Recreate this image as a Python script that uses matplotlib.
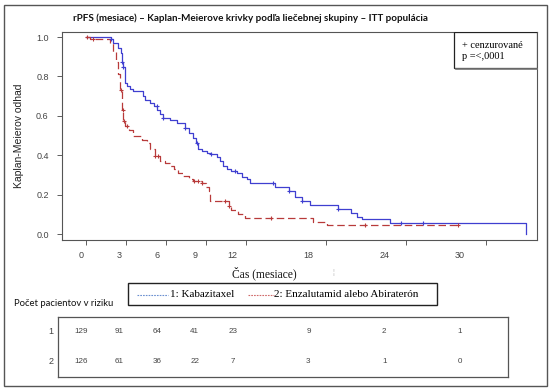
import matplotlib
matplotlib.use("Agg")
import matplotlib.pyplot as plt
import matplotlib.transforms as mtransforms
from matplotlib.patches import Rectangle
from matplotlib.lines import Line2D
import numpy as np

# --- data ---
# 1: Kabazitaxel (blue, solid)
blue_t = [0, 1.9, 2.05, 2.4, 2.6, 2.7, 2.8, 2.9, 3.05, 3.3, 3.5, 4.3, 4.4, 4.8, 5.1,
          5.35, 5.55, 5.8, 6.3, 6.8, 7.4, 7.7, 8.05, 8.25, 8.4, 8.7, 9.05, 9.4, 9.8,
          10.05, 10.3, 10.55, 10.9, 11.3, 11.7, 12.05, 12.3, 14.2, 15.2, 15.7, 16.2,
          16.8, 18.9, 19.9, 20.3, 20.7, 22.8, 33.0]
blue_s = [1.0, 0.99, 0.97, 0.945, 0.92, 0.875, 0.85, 0.765, 0.75, 0.735, 0.725, 0.70,
          0.68, 0.665, 0.65, 0.63, 0.61, 0.59, 0.58, 0.565, 0.54, 0.515, 0.49, 0.465,
          0.43, 0.42, 0.41, 0.405, 0.39, 0.37, 0.345, 0.33, 0.32, 0.31, 0.29, 0.28,
          0.26, 0.24, 0.22, 0.19, 0.17, 0.15, 0.13, 0.11, 0.09, 0.075, 0.057, 0.0]
blue_cens = [1.9, 2.7, 2.8, 5.3, 5.8, 7.4, 8.3, 9.4, 11.2, 14.0, 15.2, 16.2, 18.9,
             23.6, 25.3]

# 2: Enzalutamid alebo Abiraterón (red, dashed)
red_t = [0, 0.3, 1.8, 2.05, 2.25, 2.4, 2.55, 2.7, 2.8, 2.9, 3.2, 3.55, 4.2, 4.55, 4.8,
         5.2, 5.55, 5.9, 6.3, 6.6, 6.9, 7.3, 7.7, 8.05, 8.7, 9.0, 9.2, 9.3, 10.7, 10.9,
         11.4, 11.9, 17.05, 18.05, 27.9]
red_s = [1.0, 0.99, 0.97, 0.925, 0.875, 0.815, 0.73, 0.63, 0.575, 0.55, 0.53, 0.50,
         0.48, 0.465, 0.43, 0.395, 0.37, 0.36, 0.345, 0.33, 0.31, 0.295, 0.28, 0.27,
         0.26, 0.24, 0.22, 0.17, 0.145, 0.125, 0.105, 0.085, 0.062, 0.045, 0.045]
red_cens = [0.1, 0.5, 2.6, 2.75, 2.85, 3.1, 5.2, 5.4, 8.1, 8.4, 8.7, 10.4, 10.7, 13.9,
            20.9, 27.9]

x_ticks = [0, 3, 6, 9, 12, 18, 24, 30]
y_ticks = [0.0, 0.2, 0.4, 0.6, 0.8, 1.0]
risk_1 = [129, 91, 64, 41, 23, 9, 2, 1]
risk_2 = [126, 61, 36, 22, 7, 3, 1, 0]

BLUE = "#3f3fd0"
RED = "#b83a3a"
SANS = "Liberation Sans"
SERIF = "Liberation Serif"
TITLE_FONT = "Lato"

W, H = 554, 392


def fx(x):
    return x / W


def fy(y):
    return 1 - y / H


def surv_at(ts, ss, t):
    i = np.searchsorted(ts, t, side="right") - 1
    return ss[i]


fig = plt.figure(figsize=(5.54, 3.92), dpi=100)

# outer frame
fig.patches.append(Rectangle((fx(4), fy(386)), fx(547) - fx(4), fy(5) - fy(386),
                             transform=fig.transFigure, fill=False, ec="#555555", lw=1.0))

# --- KM plot ---
ax = fig.add_axes([fx(62), fy(240), fx(537) - fx(62), fy(31.7) - fy(240)])
ax.step(blue_t, blue_s, where="post", color=BLUE, lw=0.9)
ax.step(red_t, red_s, where="post", color=RED, lw=0.9, dashes=(6, 3))
ax.plot(blue_cens, [surv_at(blue_t, blue_s, t) for t in blue_cens], "+", color=BLUE,
        ms=3.2, mew=0.8)
ax.plot(red_cens, [surv_at(red_t, red_s, t) for t in red_cens], "+", color=RED,
        ms=3.2, mew=0.8)

ax.set_xlim(-1.8, 33.83)
ax.set_ylim(-0.029, 1.027)
ax.set_xticks(x_ticks)
ax.set_xticklabels([])
ax.set_yticks(y_ticks)
ax.set_yticklabels(["%.1f" % v for v in y_ticks], fontfamily=SANS, fontsize=6.5,
                   color="#444444")
ax.tick_params(direction="out", length=3.6, width=0.6, colors="#444444", pad=6)
for s in ax.spines.values():
    s.set_color("#555555")
    s.set_linewidth(0.8)
ax.set_ylabel("Kaplan-Meierov odhad", fontfamily=SANS, fontsize=7.5, color="#222222",
              labelpad=9)

# censored / p-value box
ax.add_patch(Rectangle((0.826, 0.826), 0.174, 0.174, transform=ax.transAxes,
                       fill=True, fc="white", ec="#222222", lw=0.9, zorder=5))
ax.plot([0.829, 1.0], [0.822, 0.822], transform=ax.transAxes, color="#777777", lw=1.2,
        zorder=5, clip_on=False)
ax.text(0.842, 0.936, "+ cenzurované", transform=ax.transAxes, fontfamily=SERIF,
        fontsize=7.5, va="center", zorder=6)
ax.text(0.842, 0.883, "p =<,0001", transform=ax.transAxes, fontfamily=SERIF,
        fontsize=7.5, va="center", zorder=6)

fig.text(fx(250), fy(18), "rPFS (mesiace) – Kaplan-Meierove krivky podľa liečebnej "
         "skupiny – ITT populácia", fontfamily=TITLE_FONT, fontweight="bold",
         fontsize=7.1, ha="center", va="center", color="#111111")

# --- risk table ---
tab = fig.add_axes([fx(58), fy(377.3), fx(508) - fx(58), fy(316.7) - fy(377.3)])
tab.set_xlim(-1.82, 33.8)
tab.set_ylim(0, 1)
tab.set_xticks([])
tab.set_yticks([])
for s in tab.spines.values():
    s.set_color("#555555")
    s.set_linewidth(0.9)

for t, a, b in zip(x_ticks, risk_1, risk_2):
    tab.text(t, 0.764, str(a), fontfamily=SANS, fontsize=5.8, color="#444444",
             ha="center", va="center")
    tab.text(t, 0.257, str(b), fontfamily=SANS, fontsize=5.8, color="#444444",
             ha="center", va="center")
tab.text(-0.01, 0.764, "1", transform=tab.transAxes, fontfamily=SANS, fontsize=6.5,
         color="#444444", ha="right", va="center")
tab.text(-0.01, 0.257, "2", transform=tab.transAxes, fontfamily=SANS, fontsize=6.5,
         color="#444444", ha="right", va="center")

# time tick labels sit on the table's x scale (as in the source)
lab_tr = mtransforms.blended_transform_factory(tab.transData, fig.transFigure)
for t in x_ticks:
    fig.text(t, fy(255), str(t), transform=lab_tr, fontfamily=SANS, fontsize=6.5,
             color="#444444", ha="center", va="center")

fig.text(fx(264), fy(273), "Čas (mesiace)", fontfamily=SERIF, fontsize=8.3,
         ha="center", va="center", color="#111111")
fig.text(fx(333), fy(272), "¦", fontfamily=SANS, fontsize=5, color="#bbbbbb",
         ha="center", va="center")

# treatment legend box
fig.patches.append(Rectangle((fx(128), fy(305)), fx(437) - fx(128), fy(283) - fy(305),
                             transform=fig.transFigure, fill=False, ec="#222222", lw=1.0))
fig.lines.append(Line2D([fx(137), fx(168)], [fy(295), fy(295)], transform=fig.transFigure,
                        color="#6a8fd0", lw=0.8, dashes=(1.5, 1)))
fig.text(fx(170), fy(294.5), "1: Kabazitaxel", fontfamily=SERIF, fontsize=8,
         ha="left", va="center")
fig.lines.append(Line2D([fx(248), fx(274)], [fy(295), fy(295)], transform=fig.transFigure,
                        color="#d06a6a", lw=0.8, dashes=(1.5, 1)))
fig.text(fx(274), fy(294.5), "2: Enzalutamid alebo Abiraterón", fontfamily=SERIF,
         fontsize=8, ha="left", va="center")

fig.text(fx(14), fy(303), "Počet pacientov v riziku", fontfamily=TITLE_FONT, fontsize=6.8,
         ha="left", va="center", color="#111111")

fig.savefig("out.png", dpi=100)
